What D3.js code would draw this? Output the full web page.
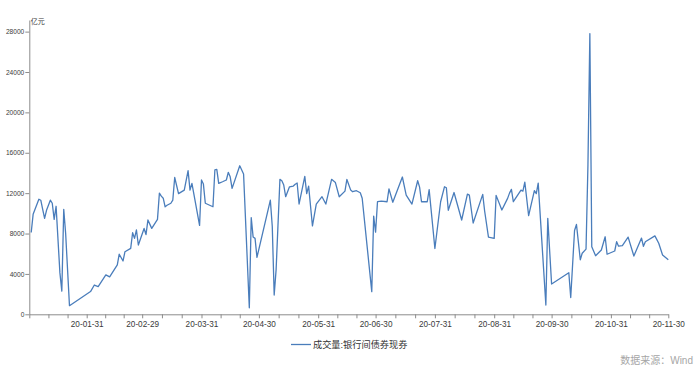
<!DOCTYPE html>
<html>
<head>
<meta charset="utf-8">
<script src="https://cdn.jsdelivr.net/npm/d3@7"></script>
<style>
  html, body { margin: 0; padding: 0; background: #fff; }
  svg { display: block; font-family: "Liberation Sans", Arial, "Noto Sans CJK SC", sans-serif; }
  .axis path, .axis line { stroke: #8c8c8c; }
  .axis text { fill: #3a3a3a; }
</style>
</head>
<body>
<svg id="chart" width="700" height="366"></svg>
<script>
// Daily spot bond turnover, interbank market, 2020 (亿元)
const dates = [
  '2020-01-02','2020-01-03','2020-01-06','2020-01-07','2020-01-08','2020-01-09','2020-01-10','2020-01-12',
  '2020-01-13','2020-01-14','2020-01-15','2020-01-17','2020-01-18','2020-01-19','2020-01-20','2020-01-22',
  '2020-02-02','2020-02-04','2020-02-06','2020-02-10','2020-02-12','2020-02-16','2020-02-17','2020-02-19',
  '2020-02-20','2020-02-23','2020-02-24','2020-02-25','2020-02-26','2020-02-27',
  '2020-03-01','2020-03-02','2020-03-03','2020-03-05','2020-03-08','2020-03-09','2020-03-10','2020-03-11',
  '2020-03-12','2020-03-13','2020-03-15','2020-03-16','2020-03-17','2020-03-19','2020-03-22','2020-03-24',
  '2020-03-25','2020-03-26','2020-03-30','2020-03-31',
  '2020-04-01','2020-04-02','2020-04-06','2020-04-07','2020-04-08','2020-04-09','2020-04-11','2020-04-13',
  '2020-04-14','2020-04-15','2020-04-16','2020-04-20','2020-04-22','2020-04-25','2020-04-26','2020-04-27',
  '2020-04-28','2020-04-29',
  '2020-05-06','2020-05-07','2020-05-08','2020-05-09','2020-05-11','2020-05-12','2020-05-13','2020-05-14',
  '2020-05-16','2020-05-18','2020-05-19','2020-05-20','2020-05-21','2020-05-24','2020-05-25','2020-05-26',
  '2020-05-28','2020-05-30',
  '2020-06-02','2020-06-04','2020-06-07','2020-06-09','2020-06-11','2020-06-14','2020-06-15','2020-06-17',
  '2020-06-18','2020-06-20','2020-06-22','2020-06-23','2020-06-28','2020-06-29','2020-06-30',
  '2020-07-01','2020-07-03','2020-07-06','2020-07-07','2020-07-09','2020-07-14','2020-07-16','2020-07-19',
  '2020-07-22','2020-07-23','2020-07-24','2020-07-27','2020-07-28','2020-07-31',
  '2020-08-03','2020-08-05','2020-08-06','2020-08-07','2020-08-10','2020-08-14','2020-08-17','2020-08-18',
  '2020-08-20','2020-08-25','2020-08-26','2020-08-28','2020-08-31',
  '2020-09-01','2020-09-04','2020-09-07','2020-09-08','2020-09-09','2020-09-10','2020-09-14','2020-09-15',
  '2020-09-16','2020-09-18','2020-09-21','2020-09-22','2020-09-23','2020-09-27','2020-09-28','2020-09-30',
  '2020-10-09','2020-10-10','2020-10-12','2020-10-13','2020-10-15','2020-10-16','2020-10-18','2020-10-19',
  '2020-10-20','2020-10-21','2020-10-23','2020-10-26','2020-10-28','2020-10-29',
  '2020-11-02','2020-11-03','2020-11-04','2020-11-06','2020-11-09','2020-11-12','2020-11-16','2020-11-17',
  '2020-11-18','2020-11-23','2020-11-25','2020-11-27','2020-11-30'
];

const volume = [
  8100, 9900, 11400, 11300, 10400, 9500, 10300, 11300,
  11000, 9400, 10700, 4100, 2300, 10400, 8000, 850,
  2250, 2900, 2750, 3900, 3700, 4900, 5950, 5280,
  6200, 6530, 8080, 7520, 8350, 6860,
  8500, 7900, 9340, 8510, 9400, 12000, 11700, 11500,
  10650, 10800, 11000, 11300, 13550, 11950, 12300, 14220,
  12300, 12970, 8800, 13300,
  12900, 11000, 10650, 14300, 14350, 12970, 13130, 13300,
  14060, 13620, 12470, 14710, 13900, 650, 9580, 7650,
  7520, 5640,
  11300, 8700, 1910, 4400, 13365, 13230, 12800, 11650,
  12630, 12700, 12880, 13000, 10920, 13660, 11950, 12700,
  8750, 10920,
  11650, 10920, 13365, 13050, 11640, 12200, 13360, 12300,
  12140, 12240, 12040, 11500, 2240, 9730, 8130,
  11150, 11200, 11150, 12430, 11100, 13600, 11800, 10920,
  13230, 12600, 11150, 11150, 12350, 6520,
  11150, 12630, 12530, 10300, 12060, 9340, 11900, 11800,
  9040, 11880, 10230, 7650, 7520,
  11780, 10330, 11480, 12000, 12370, 11150, 12300, 12200,
  13100, 9780, 12250, 11950, 13000, 920, 9500, 3000,
  4120, 1660, 8300, 8900, 5400, 6050, 6460, 14800,
  27800, 6690, 5800, 6370, 7680, 5950,
  6270, 7190, 6750, 6800, 7650, 5770, 7550, 6740,
  7190, 7770, 7030, 5870, 5400
];

const yTickValues = [0, 4000, 8000, 12000, 16000, 20000, 24000, 28000];
const seriesName = '成交量:银行间债券现券';
const unitLabel = '亿元';
const sourceLabel = '数据来源：Wind';

const parse = d3.timeParse('%Y-%m-%d');
const series = dates.map((d, i) => ({ date: parse(d), value: volume[i] }));

const svg = d3.select('#chart');
const LEFT = 29.3, RIGHT = 668.3, BOTTOM = 314.3, TOP = 20;
const LINE_COLOR = '#4a7dbb';

const x = d3.scaleTime()
  .domain([parse('2020-01-01'), parse('2020-11-30')])
  .range([LEFT, RIGHT]);

const y = d3.scaleLinear()
  .domain([0, 29150])
  .range([BOTTOM, TOP]);

// Month-end labelled ticks, two unlabelled ticks between each pair
const monthEnds = d3.timeMonth.range(parse('2020-02-01'), parse('2020-12-02'))
  .map(m => d3.timeDay.offset(m, -1));
const bounds = [x.domain()[0], ...monthEnds];
const xTicks = [bounds[0]];
for (let i = 1; i < bounds.length; i++) {
  const a = x(bounds[i - 1]), b = x(bounds[i]);
  xTicks.push(x.invert(a + (b - a) / 3), x.invert(a + 2 * (b - a) / 3), bounds[i]);
}
const majorSet = new Set(monthEnds.map(d => +d));
const fmt = d3.timeFormat('%y-%m-%d');

svg.append('g')
  .attr('class', 'axis')
  .attr('transform', `translate(0,${BOTTOM})`)
  .call(d3.axisBottom(x).tickValues(xTicks).tickSize(4).tickSizeOuter(0).tickPadding(3)
    .tickFormat(d => majorSet.has(+d) ? fmt(d) : ''))
  .call(g => g.selectAll('text').attr('font-size', 8.2))
  .call(g => g.select('.domain').attr('stroke', '#8c8c8c'));

svg.append('g')
  .attr('class', 'axis')
  .attr('transform', `translate(${LEFT},0)`)
  .call(d3.axisLeft(y).tickValues(yTickValues).tickSize(4).tickSizeOuter(0).tickPadding(1)
    .tickFormat(d3.format('d')))
  .call(g => g.selectAll('text').attr('font-size', 6.6));

// Unit label
svg.append('text')
  .attr('x', LEFT + 1.5)
  .attr('y', 23.5)
  .attr('font-size', 7)
  .attr('fill', '#3a3a3a')
  .text(unitLabel);

const line = d3.line()
  .x(d => x(d.date))
  .y(d => y(d.value));

svg.append('path')
  .datum(series)
  .attr('d', line)
  .attr('fill', 'none')
  .attr('stroke', LINE_COLOR)
  .attr('stroke-width', 1.3)
  .attr('stroke-linejoin', 'round');

// Legend
const legend = svg.append('g').attr('transform', 'translate(291,344.5)');
legend.append('line')
  .attr('x1', 0).attr('x2', 20)
  .attr('stroke', LINE_COLOR)
  .attr('stroke-width', 1.3);
legend.append('text')
  .attr('x', 22)
  .attr('y', 3.3)
  .attr('font-size', 9.2)
  .attr('fill', '#333')
  .text(seriesName);

// Source note
svg.append('text')
  .attr('x', 693)
  .attr('y', 364)
  .attr('text-anchor', 'end')
  .attr('font-size', 10)
  .attr('fill', '#a6a6a6')
  .text(sourceLabel);
</script>
</body>
</html>
